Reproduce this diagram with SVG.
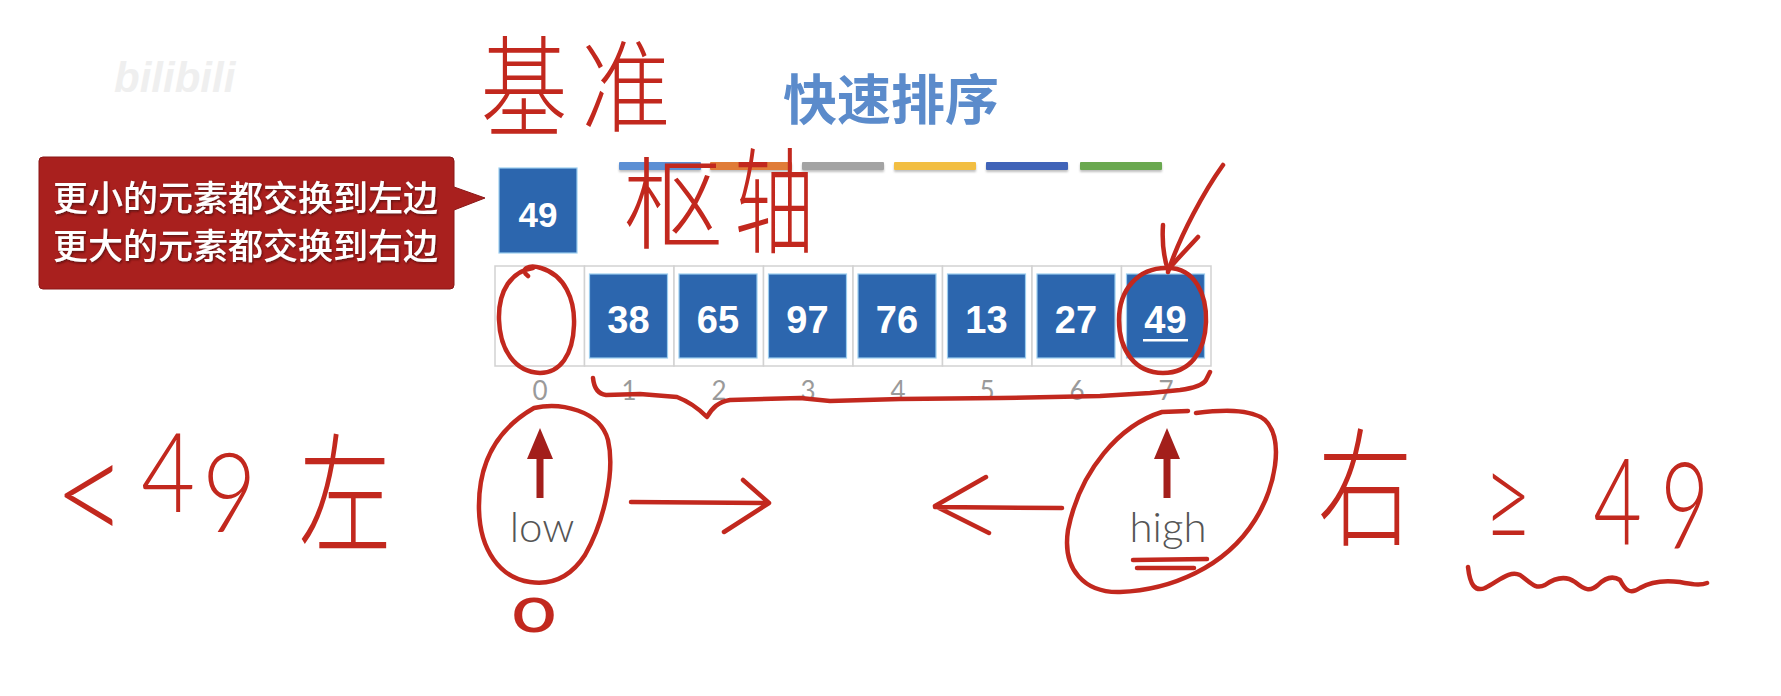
<svg xmlns="http://www.w3.org/2000/svg" width="1781" height="696" viewBox="0 0 1781 696">
<defs>
<style>
.cell{fill:#ffffff;stroke:#d2d2d2;stroke-width:1.5}
.blk{fill:#2C66AE;stroke:#9ccdee;stroke-width:1.2}
.num{font-family:"Liberation Sans",Arial,sans-serif;font-weight:bold;font-size:38px;fill:#ffffff;text-anchor:middle}
.idx{font-family:Lato,"Liberation Sans",sans-serif;font-weight:400;font-size:26px;fill:#9a9a9a;text-anchor:middle}
.ptr{font-family:Lato,"Liberation Sans",sans-serif;font-weight:300;font-size:42px;fill:#555555;text-anchor:middle}
.up{fill:#A31F1B}
.ink{fill:none;stroke:#C2281E;stroke-width:4.5;stroke-linecap:round;stroke-linejoin:round}
.hw{font-family:"Noto Sans CJK SC","Noto Sans CJK JP",sans-serif;font-weight:300;font-size:100px;fill:#C2281E;text-anchor:middle}
.hwl{font-family:Lato,"DejaVu Sans",sans-serif;font-weight:300;fill:#C2281E}
.call{font-family:"Noto Sans CJK SC","Noto Sans CJK JP",sans-serif;font-weight:500;font-size:35px;fill:#ffffff}
.bar{filter:url(#sh)}
</style>
<filter id="sh" x="-10%" y="-50%" width="120%" height="250%">
<feDropShadow dx="0" dy="2" stdDeviation="1.2" flood-color="#000" flood-opacity="0.25"/>
</filter>
<filter id="ts" x="-5%" y="-20%" width="110%" height="140%">
<feDropShadow dx="1" dy="1.5" stdDeviation="1" flood-color="#4a0808" flood-opacity="0.8"/>
</filter>
</defs>
<rect width="1781" height="696" fill="#ffffff"/>

<text x="114" y="92" font-family="Liberation Sans,sans-serif" font-weight="bold" font-style="italic" font-size="42" fill="#efefef">bilibili</text>

<g id="title">
<text x="783" y="120" font-family="Noto Sans CJK SC,Noto Sans CJK JP,sans-serif" font-weight="700" font-size="54" fill="#5B8BCB">快速排序</text>
<rect class="bar" x="619" y="162" width="82" height="8" rx="1" fill="#5B8FD4"/>
<rect class="bar" x="710" y="162" width="82" height="8" rx="1" fill="#E07B39"/>
<rect class="bar" x="802" y="162" width="82" height="8" rx="1" fill="#A3A3A3"/>
<rect class="bar" x="894" y="162" width="82" height="8" rx="1" fill="#F2BE42"/>
<rect class="bar" x="986" y="162" width="82" height="8" rx="1" fill="#3F63B8"/>
<rect class="bar" x="1080" y="162" width="82" height="8" rx="1" fill="#6AA84F"/>
</g>

<g id="callout">
<path d="M43,157 H450 Q454,157 454,161 V187 L485,198 L454,210 V285 Q454,289 450,289 H43 Q39,289 39,285 V161 Q39,157 43,157 Z" fill="#A9201E" stroke="#8a1616" stroke-width="1"/>
<g filter="url(#ts)">
<text class="call" x="53" y="211">更小的元素都交换到左边</text>
<text class="call" x="53" y="259">更大的元素都交换到右边</text>
</g>
</g>

<g id="pivot">
<rect class="blk" x="499" y="168" width="78" height="85"/>
<text class="num" x="538" y="227" style="font-size:35px">49</text>
</g>

<g id="array">
<g id="cell0"><rect class="cell" x="495" y="266" width="89.5" height="100"/></g>
<g id="cell1"><rect class="cell" x="584.5" y="266" width="89.5" height="100"/><rect class="blk" x="589.5" y="274" width="78" height="84"/><text class="num" x="628.5" y="333">38</text></g>
<g id="cell2"><rect class="cell" x="674" y="266" width="89.5" height="100"/><rect class="blk" x="679" y="274" width="78" height="84"/><text class="num" x="718" y="333">65</text></g>
<g id="cell3"><rect class="cell" x="763.5" y="266" width="89.5" height="100"/><rect class="blk" x="768.5" y="274" width="78" height="84"/><text class="num" x="807.5" y="333">97</text></g>
<g id="cell4"><rect class="cell" x="853" y="266" width="89.5" height="100"/><rect class="blk" x="858" y="274" width="78" height="84"/><text class="num" x="897" y="333">76</text></g>
<g id="cell5"><rect class="cell" x="942.5" y="266" width="89.5" height="100"/><rect class="blk" x="947.5" y="274" width="78" height="84"/><text class="num" x="986.5" y="333">13</text></g>
<g id="cell6"><rect class="cell" x="1032" y="266" width="89.5" height="100"/><rect class="blk" x="1037" y="274" width="78" height="84"/><text class="num" x="1076" y="333">27</text></g>
<g id="cell7"><rect class="cell" x="1121.5" y="266" width="89.5" height="100"/><rect class="blk" x="1126.5" y="274" width="78" height="84"/><text class="num" x="1165.5" y="333">49</text><rect x="1143" y="339" width="45" height="2.5" fill="#ffffff"/></g>
</g>

<g id="indices">
<text class="idx" x="540" y="400">0</text>
<text class="idx" x="629" y="400">1</text>
<text class="idx" x="719" y="400">2</text>
<text class="idx" x="808" y="400">3</text>
<text class="idx" x="898" y="400">4</text>
<text class="idx" x="987" y="400">5</text>
<text class="idx" x="1077" y="400">6</text>
<text class="idx" x="1166" y="400">7</text>
</g>

<g id="low">
<text class="ptr" x="542" y="542">low</text>
</g>
<g id="high">
<text class="ptr" x="1168" y="542">high</text>
</g>

<g id="connectors">
<path class="up" d="M540,428 L553,459 L543.5,459 L543.5,498 L536.5,498 L536.5,459 L527,459 Z"/>
<path class="up" d="M1167,428 L1180,459 L1170.5,459 L1170.5,498 L1163.5,498 L1163.5,459 L1154,459 Z"/>
</g>

<g id="annotations">
<text class="hw" transform="translate(524,128) scale(0.87,1.1)">基</text>
<text class="hw" transform="translate(626,124) scale(0.9,1)">准</text>
<text class="hw" transform="translate(673,241)">枢</text>
<text class="hw" transform="translate(774,244) scale(0.8,1.15)">轴</text>
<text class="hw" transform="translate(345,542) scale(0.93,1.3)">左</text>
<text class="hw" transform="translate(1365,536) scale(0.95,1.28)">右</text>

<text class="hwl" font-size="110" transform="scale(0.85,1)"><tspan x="63" y="546" font-size="150">&lt;</tspan><tspan x="166" y="512">4</tspan><tspan x="238" y="532">9</tspan></text>
<text class="hwl" font-size="120" transform="scale(0.7,1)"><tspan x="2120" y="540">≥</tspan><tspan x="2276" y="545">4</tspan><tspan x="2372" y="548">9</tspan></text>
<text class="hwl" font-size="46" font-weight="700" text-anchor="middle" stroke="#C2281E" stroke-width="3" transform="translate(534,631) scale(1.5,1)">0</text>

<path class="ink" d="M528,276 C519,269 529,264 541,268 C565,275 575,300 574,325 C573,355 560,373 540,373 C515,372 500,350 499,320 C498,290 512,271 533,268"/>
<path class="ink" d="M1168,268 C1195,268 1207,295 1206,322 C1205,352 1190,373 1163,373 C1135,373 1119,350 1119,320 C1119,290 1138,267 1168,268"/>
<path class="ink" d="M1223,165 C1205,190 1180,235 1168,272"/>
<path class="ink" d="M1163,225 C1162,240 1164,258 1168,270 M1198,237 C1188,248 1176,260 1168,270"/>
<path class="ink" d="M593,378 C594,388 598,394 606,395 L640,394 L677,397 C690,402 700,410 707,417 C712,408 718,402 730,400 L800,398 L830,401 L900,399 L1000,398 L1100,396 L1150,393 L1180,390 C1195,388 1203,385 1206,380 L1210,372"/>
<path class="ink" d="M534,408 C560,402 600,410 608,440 C615,470 605,520 585,555 C570,578 550,585 530,582 C500,578 480,550 479,510 C478,470 492,432 534,408"/>
<path class="ink" d="M1188,411 L1162,412 C1120,425 1080,470 1068,530 C1062,570 1085,593 1120,592 C1170,590 1225,568 1255,520 C1275,488 1285,440 1265,420 C1250,408 1220,410 1196,413"/>
<path class="ink" d="M1133,560 L1207,559 M1137,568 L1194,568"/>
<path class="ink" d="M631,502 L769,503 M743,480 L769,503 L724,532"/>
<path class="ink" d="M1062,508 L935,507 M986,477 L935,506 L989,533"/>
<path class="ink" d="M1468,567 C1470,585 1475,592 1485,588 C1500,580 1510,570 1520,575 C1530,582 1535,590 1545,585 C1555,578 1565,575 1575,582 C1585,590 1590,592 1598,585 C1605,578 1612,575 1620,580 C1625,590 1630,595 1640,588 C1650,582 1665,580 1680,582 C1690,584 1700,586 1707,583"/>
</g>
</svg>
